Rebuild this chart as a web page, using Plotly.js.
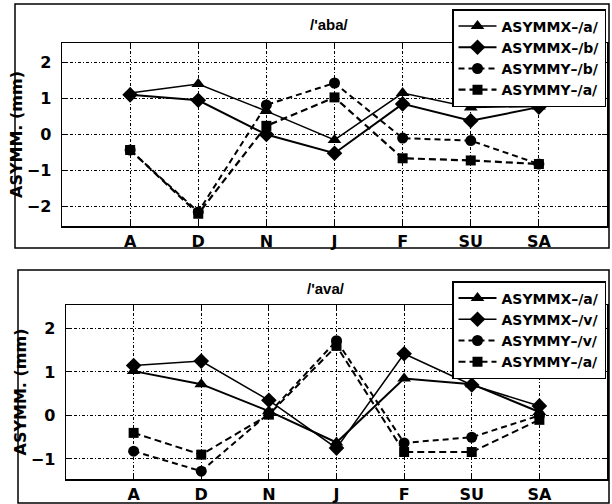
<!DOCTYPE html>
<html>
<head>
<meta charset="utf-8">
<script src="https://cdn.plot.ly/plotly-3.0.1.min.js"></script>
<style>html,body{margin:0;padding:0;background:#fff;}#chart{width:612px;height:504px;}</style>
</head>
<body>
<div id="chart"></div>
<script>
// ---- data ----
const categories = ["A", "D", "N", "J", "F", "SU", "SA"];

// top panel /'aba/
const abaNames = ["ASYMMX\u2013/a/", "ASYMMX\u2013/b/", "ASYMMY\u2013/b/", "ASYMMY\u2013/a/"];
const abaXa = [1.15, 1.40, 0.65, -0.15, 1.15, 0.75, 0.78];
const abaXb = [1.10, 0.95, 0.00, -0.52, 0.85, 0.38, 0.76];
const abaYb = [-0.43, -2.15, 0.82, 1.43, -0.10, -0.17, -0.82];
const abaYa = [-0.43, -2.20, 0.24, 1.03, -0.66, -0.72, -0.82];

// bottom panel /'ava/
const avaNames = ["ASYMMX\u2013/a/", "ASYMMX\u2013/v/", "ASYMMY\u2013/v/", "ASYMMY\u2013/a/"];
const avaXa = [1.02, 0.72, 0.10, -0.62, 0.85, 0.72, 0.08];
const avaXv = [1.15, 1.25, 0.35, -0.75, 1.42, 0.70, 0.22];
const avaYv = [-0.82, -1.28, 0.05, 1.72, -0.63, -0.50, 0.00];
const avaYa = [-0.40, -0.90, 0.02, 1.60, -0.84, -0.84, -0.10];

const titleTop = "/'aba/";
const titleBottom = "/'ava/";
const yTitle = "ASYMM. (mm)";

// ---- styling helpers ----
const FONT = "DejaVu Sans, Arial, sans-serif";
function tr(x, y, name, sym, msize, width, dash, xa, ya, leg) {
  return {
    type: "scatter", mode: "lines+markers", x: x, y: y, name: name,
    xaxis: xa, yaxis: ya, legend: leg,
    line: {color: "#000", width: width, dash: dash},
    marker: {symbol: sym, size: msize, color: "#000", line: {width: 0}},
    cliponaxis: false
  };
}

const data = [
  tr(categories, abaXa, abaNames[0], "triangle-up", 12, 1.5, "solid", "x", "y", "legend"),
  tr(categories, abaXb, abaNames[1], "diamond", 12, 2, "solid", "x", "y", "legend"),
  tr(categories, abaYb, abaNames[2], "circle", 11, 2, "6px,4px", "x", "y", "legend"),
  tr(categories, abaYa, abaNames[3], "square", 10, 2.2, "7px,4px", "x", "y", "legend"),
  tr(categories, avaXa, avaNames[0], "triangle-up", 12, 2, "solid", "x2", "y2", "legend2"),
  tr(categories, avaXv, avaNames[1], "diamond", 12, 1.5, "solid", "x2", "y2", "legend2"),
  tr(categories, avaYv, avaNames[2], "circle", 11, 2, "6px,4px", "x2", "y2", "legend2"),
  tr(categories, avaYa, avaNames[3], "square", 10, 2, "7px,4px", "x2", "y2", "legend2")
];

const W = 612, H = 504;
const px = v => v / W, py = v => 1 - v / H;

function xax(domain, anchor) {
  return {
    domain: domain, anchor: anchor, type: "category", range: [-1, 7],
    showline: true, linecolor: "#000", linewidth: 1.5, mirror: "ticks",
    ticks: "inside", ticklen: 5, tickcolor: "#000", tickwidth: 1,
    showgrid: true, gridcolor: "#000", gridwidth: 1, griddash: "3px,2px,1px,2px",
    zeroline: false, fixedrange: true,
    tickfont: {family: FONT, size: 16, color: "#000", weight: "bold"}
  };
}
function yax(domain, anchor, range, ticks) {
  return {
    domain: domain, anchor: anchor, range: range, tickvals: ticks,
    showline: true, linecolor: "#000", linewidth: 1.5, mirror: "ticks",
    ticks: "inside", ticklen: 5, tickcolor: "#000", tickwidth: 1,
    showgrid: true, gridcolor: "#000", gridwidth: 1, griddash: "3px,2px,1px,2px",
    zeroline: false, fixedrange: true, ticklabelstandoff: 6,
    tickfont: {family: FONT, size: 16, color: "#000", weight: "bold"},
    title: {text: yTitle, standoff: 0, font: {family: FONT, size: 16, color: "#000", weight: "bold"}}
  };
}

function legendCfg(yTop) {
  return {
    x: px(606), xanchor: "right", y: py(yTop), yanchor: "top",
    bgcolor: "#fff", bordercolor: "#000", borderwidth: 1.5,
    font: {family: FONT, size: 14, color: "#000", weight: "bold"},
    itemwidth: 38, tracegroupgap: 0
  };
}

const layout = {
  width: W, height: H,
  margin: {l: 0, r: 0, t: 0, b: 0},
  paper_bgcolor: "#fff", plot_bgcolor: "#fff",
  showlegend: true,
  xaxis: xax([px(62), px(607)], "y"),
  yaxis: yax([py(226), py(43)], "x", [-2.54, 2.54], [-2, -1, 0, 1, 2]),
  xaxis2: xax([px(66), px(607)], "y2"),
  yaxis2: yax([py(479), py(305)], "x2", [-1.46, 2.54], [-1, 0, 1, 2]),
  legend: legendCfg(9),
  legend2: legendCfg(281),
  shapes: [
    {type: "rect", xref: "paper", yref: "paper", x0: px(15), x1: px(609), y0: py(248), y1: py(4),
     line: {color: "#000", width: 1.5}, layer: "below"},
    {type: "rect", xref: "paper", yref: "paper", x0: px(18), x1: px(609), y0: py(503), y1: py(270),
     line: {color: "#000", width: 1.5}, layer: "below"}
  ],
  annotations: [
    {text: titleTop, xref: "paper", yref: "paper", x: px(329), y: py(24), xanchor: "center", yanchor: "middle",
     showarrow: false, font: {family: "Liberation Sans, Arial, sans-serif", size: 15, color: "#000", weight: "bold"}},
    {text: titleBottom, xref: "paper", yref: "paper", x: px(326), y: py(288), xanchor: "center", yanchor: "middle",
     showarrow: false, font: {family: "Liberation Sans, Arial, sans-serif", size: 15, color: "#000", weight: "bold"}}
  ]
};

Plotly.newPlot("chart", data, layout, {staticPlot: true, displayModeBar: false});
</script>
</body>
</html>
